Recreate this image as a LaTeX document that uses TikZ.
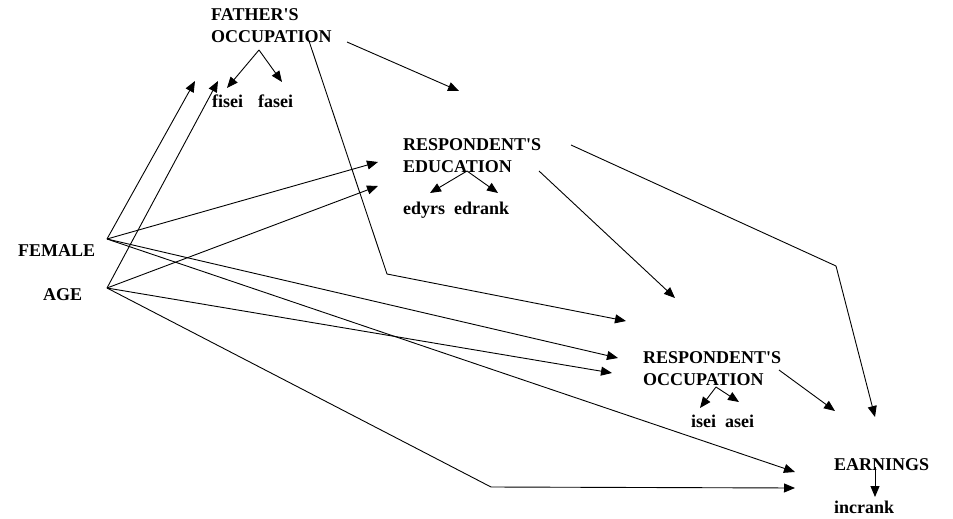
\documentclass[tikz,border=0pt]{standalone}
\usepackage{fontspec}
\setmainfont{Liberation Serif}
\usetikzlibrary{arrows.meta}
\begin{document}
\begin{tikzpicture}[x=1pt,y=-1pt,
  lbl/.style={anchor=base west,inner sep=0pt,font=\fontsize{18}{22}\selectfont\bfseries,align=left},
  arr/.style={-{Triangle[length=11pt,width=9pt]},line width=0.9pt},
  ln/.style={line width=0.9pt}]
\useasboundingbox (0,0) rectangle (953,519);
% nodes (multi-line nodes are placed by the baseline of their last line)
\node[lbl] (fo) at (211,43) {FATHER\textquotesingle S\\OCCUPATION};
\node[lbl] (fisei) at (212,107) {fisei};
\node[lbl] (fasei) at (258,107) {fasei};
\node[lbl] (re) at (403,172) {RESPONDENT\textquotesingle S\\EDUCATION};
\node[lbl] (edyrs) at (403,214) {edyrs};
\node[lbl] (edrank) at (454,214) {edrank};
\node[lbl] (ro) at (643,385) {RESPONDENT\textquotesingle S\\OCCUPATION};
\node[lbl] (isei) at (691,427) {isei};
\node[lbl] (asei) at (725,427) {asei};
\node[lbl] (earn) at (834,470) {EARNINGS};
\node[lbl] (incrank) at (834,513) {incrank};
\node[lbl] (female) at (18,256) {FEMALE};
\node[lbl] (age) at (43,300) {AGE};
% connector points
\coordinate (femv) at (107,239);
\coordinate (agev) at (107,288);
\coordinate (foA) at (259,50);
\coordinate (fiseiT) at (227,88);
\coordinate (faseiT) at (282,82);
\coordinate (foB) at (347,42);
\coordinate (foBT) at (459,91);
\coordinate (foC) at (307,35);
\coordinate (foCk) at (387,274);
\coordinate (foCT) at (626,321);
\coordinate (foT1) at (195,81);
\coordinate (foT2) at (218,81);
\coordinate (reT1) at (378,162);
\coordinate (reT2) at (378,186);
\coordinate (roT1) at (618,358);
\coordinate (roT2) at (612,373);
\coordinate (eaT1) at (795,472);
\coordinate (ageK) at (491,487);
\coordinate (eaT2) at (795,488);
\coordinate (reA) at (467,171);
\coordinate (edyrsT) at (430,193);
\coordinate (edrankT) at (498,193);
\coordinate (reB) at (539,171);
\coordinate (reBT) at (675,298);
\coordinate (reC) at (571,145);
\coordinate (reCk) at (836,266);
\coordinate (reCT) at (875,417);
\coordinate (roA) at (716,387);
\coordinate (iseiT) at (700,408);
\coordinate (aseiT) at (739,402);
\coordinate (roB) at (779,370);
\coordinate (roBT) at (835,411);
\coordinate (eaA) at (875,467);
\coordinate (incrankT) at (875,497);
% connectors
\draw[arr] (foA) -- (fiseiT);
\draw[arr] (foA) -- (faseiT);
\draw[arr] (foB) -- (foBT);
\draw[arr] (foC) -- (foCk) -- (foCT);
\draw[arr] (femv) -- (foT1);
\draw[arr] (agev) -- (foT2);
\draw[arr] (femv) -- (reT1);
\draw[arr] (agev) -- (reT2);
\draw[arr] (femv) -- (roT1);
\draw[arr] (agev) -- (roT2);
\draw[arr] (femv) -- (eaT1);
\draw[arr] (agev) -- (ageK) -- (eaT2);
\draw[arr] (reA) -- (edyrsT);
\draw[arr] (reA) -- (edrankT);
\draw[arr] (reB) -- (reBT);
\draw[arr] (reC) -- (reCk) -- (reCT);
\draw[arr] (roA) -- (iseiT);
\draw[arr] (roA) -- (aseiT);
\draw[arr] (roB) -- (roBT);
\draw[arr] (eaA) -- (incrankT);
\end{tikzpicture}
\end{document}
